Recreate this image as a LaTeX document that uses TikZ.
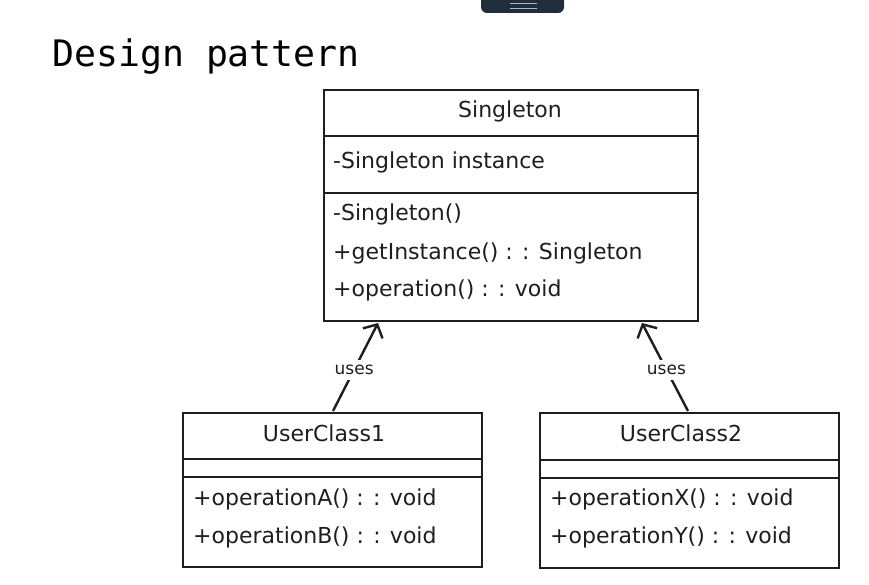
\documentclass[tikz,border=0pt]{standalone}
\usepackage{fontspec}
\setmainfont{DejaVu Sans}
\newfontfamily\titlefont{DejaVu Sans Mono}
\usetikzlibrary{arrows.meta}
\definecolor{ink}{HTML}{1E1E1E}
\definecolor{barbg}{HTML}{1F2D3D}
\definecolor{barline}{HTML}{A9B8C8}
\tikzset{
  classbox/.style={draw=ink, line width=1.8pt, rectangle, inner sep=0pt, anchor=north west},
  divider/.style={draw=ink, line width=1.3pt},
  member/.style={anchor=base west, inner sep=0pt, font=\fontsize{22}{24}\selectfont, text=ink},
  cname/.style={anchor=base, inner sep=0pt, font=\fontsize{22}{24}\selectfont, text=ink},
  uses/.style={draw=ink, line width=2.4pt, -{Straight Barb[length=10pt,width=22pt,line width=2.4pt]}},
  useslabel/.style={fill=white, inner xsep=1pt, inner ysep=5pt, font=\fontsize{17}{19}\selectfont, text=ink},
}
\begin{document}
\begin{tikzpicture}[x=1pt,y=-1pt]
\useasboundingbox (0,0) rectangle (869,585);
% top bar
\fill[barbg, rounded corners=6pt] (481,-10) rectangle (564,13);
\draw[barline, line width=1.3pt] (510,3.5) -- (537,3.5) (510,8.5) -- (537,8.5);
% title
\node[anchor=base west, inner sep=0pt, font=\titlefont\fontsize{36.5}{40}\selectfont] (title) at (52,67) {Design pattern};
% Singleton
\node[classbox, minimum width=374pt, minimum height=231pt] (s) at (323,89) {};
\draw[divider] (323,136) -- (697,136);
\draw[divider] (323,193) -- (697,193);
\node[cname] (sname) at (510,118) {Singleton};
\node[member] (s1) at (333,169) {-Singleton instance};
\node[member] (s2) at (333,221) {-Singleton()};
\node[member] (s3) at (333,259) {+getInstance() : : Singleton};
\node[member] (s4) at (333,296) {+operation() : : void};
% UserClass1
\node[classbox, minimum width=299pt, minimum height=154pt] (u1) at (182,412) {};
\draw[divider] (182,459) -- (481,459);
\draw[divider] (182,477) -- (481,477);
\node[cname] (u1name) at (324,441) {UserClass1};
\node[member] (u1a) at (193,505) {+operationA() : : void};
\node[member] (u1b) at (193,543) {+operationB() : : void};
% UserClass2
\node[classbox, minimum width=299pt, minimum height=155pt] (u2) at (539,412) {};
\draw[divider] (539,460) -- (838,460);
\draw[divider] (539,478) -- (838,478);
\node[cname] (u2name) at (681,441) {UserClass2};
\node[member] (u2a) at (550,505) {+operationX() : : void};
\node[member] (u2b) at (550,543) {+operationY() : : void};
% connectors
\coordinate (u1top) at (333,411);
\coordinate (stopL) at (378,323);
\coordinate (u2top) at (688,411);
\coordinate (stopR) at (642,323);
\draw[uses] (u1top) -- node[useslabel, pos=0.47] {uses} (stopL);
\draw[uses] (u2top) -- node[useslabel, pos=0.47] {uses} (stopR);
\end{tikzpicture}
\end{document}
